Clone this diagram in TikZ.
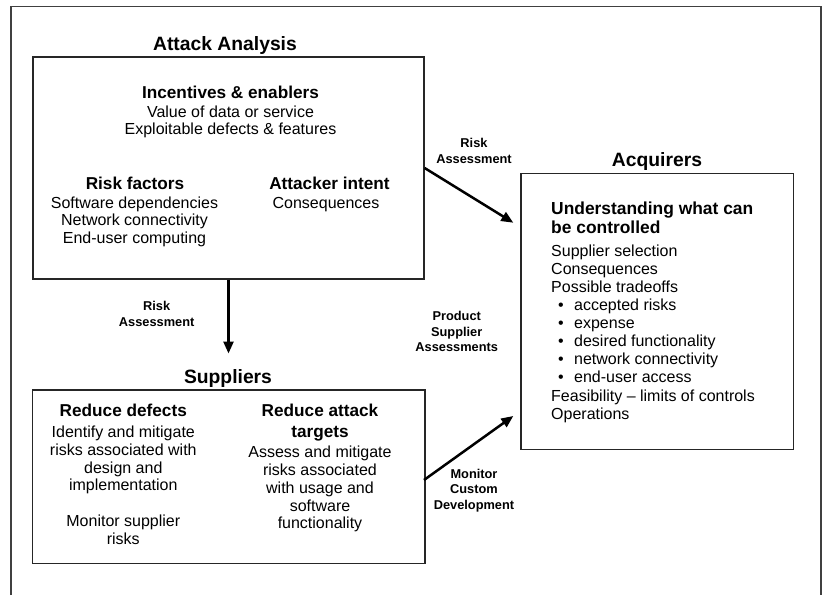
\documentclass[tikz,border=0pt]{standalone}
\usepackage{fontspec}
\setmainfont{Liberation Sans}
\usetikzlibrary{arrows.meta}
\begin{document}
\begin{tikzpicture}[x=1pt,y=-1pt,
  box/.style={draw=black!85,line width=1.3pt,inner sep=0pt},
  ttl/.style={anchor=base,inner sep=0pt,font=\fontsize{19.3}{22}\selectfont\bfseries},
  hd/.style={anchor=base,inner sep=0pt,font=\fontsize{17.2}{20}\selectfont\bfseries},
  bd/.style={anchor=base,inner sep=0pt,font=\fontsize{16}{18}\selectfont},
  bdl/.style={anchor=base west,inner sep=0pt,font=\fontsize{16}{18}\selectfont},
  hdl/.style={anchor=base west,inner sep=0pt,font=\fontsize{17.4}{20}\selectfont\bfseries},
  lbl/.style={anchor=base,inner sep=0pt,font=\fontsize{12.8}{15}\selectfont\bfseries},
  arr/.style={line width=2.5pt,-{Triangle[length=12pt,width=10pt]}}]
\useasboundingbox (0,0) rectangle (822,595);
% outer frame
\draw[line width=1.4pt,black!75] (11,595) -- (11,6.5) -- (821,6.5) -- (821,595);

% boxes
\node[box,minimum width=391pt,minimum height=222pt] (attack) at (228.5,168) {};
\node[box,minimum width=392.7pt,minimum height=173.3pt] (supp) at (228.7,476.7) {};
\node[box,minimum width=272.5pt,minimum height=276pt] (acq) at (657.25,311.3) {};

% Attack Analysis
\node[ttl] (t1) at (225,50) {Attack Analysis};
\node[hd] (ie) at (230.5,98) {Incentives \& enablers};
\node[bd] (ie1) at (230.5,117) {Value of data or service};
\node[bd] (ie2) at (230.5,134.5) {Exploitable defects \& features};
\node[hd] (rf) at (135,189) {Risk factors};
\node[bd] (rf1) at (134.5,208) {Software dependencies};
\node[bd] (rf2) at (134.5,225.5) {Network connectivity};
\node[bd] (rf3) at (134.5,243) {End-user computing};
\node[hd] (ai) at (329.5,189) {Attacker intent};
\node[bd] (ai1) at (326,208) {Consequences};

% Suppliers
\node[ttl] (t2) at (228,383.3) {Suppliers};
\node[hd] (rd) at (123.3,416.7) {Reduce defects};
\node[bd] (rd1) at (123.3,437.7) {Identify and mitigate};
\node[bd] (rd2) at (123.3,455.3) {risks associated with};
\node[bd] (rd3) at (123.3,473) {design and};
\node[bd] (rd4) at (123.3,490.7) {implementation};
\node[bd] (rd5) at (123.3,526.7) {Monitor supplier};
\node[bd] (rd6) at (123.3,544.3) {risks};
\node[hd] (ra) at (320,416.7) {Reduce attack};
\node[hd] (ra0) at (320,437.7) {targets};
\node[bd] (ra1) at (320,457.3) {Assess and mitigate};
\node[bd] (ra2) at (320,475.5) {risks associated};
\node[bd] (ra3) at (320,493.5) {with usage and};
\node[bd] (ra4) at (320,511) {software};
\node[bd] (ra5) at (320,528.5) {functionality};

% Acquirers
\node[ttl] (t3) at (657,166.7) {Acquirers};
\node[hdl] (u1) at (551,214) {Understanding what can};
\node[hdl] (u2) at (551,233) {be controlled};
\node[bdl] (a1) at (551,256.5) {Supplier selection};
\node[bdl] (a2) at (551,274.5) {Consequences};
\node[bdl] (a3) at (551,292.5) {Possible tradeoffs};
\foreach \t [count=\i] in {accepted risks,expense,desired functionality,network connectivity,end-user access}{
  \node[bd] (b\i) at (561,292.5+18*\i) {•};
  \node[bdl] (bt\i) at (574,292.5+18*\i) {\t};
}
\node[bdl] (a4) at (551,401) {Feasibility – limits of controls};
\node[bdl] (a5) at (551,419) {Operations};

% connector labels
\node[lbl] (l1a) at (474,147.7) {Risk};
\node[lbl] (l1b) at (474,163.3) {Assessment};
\node[lbl] (l2a) at (156.7,310) {Risk};
\node[lbl] (l2b) at (156.7,326) {Assessment};
\node[lbl] (l3a) at (456.7,320.7) {Product};
\node[lbl] (l3b) at (456.7,336.2) {Supplier};
\node[lbl] (l3c) at (456.7,351.7) {Assessments};
\node[lbl] (l4a) at (474,478) {Monitor};
\node[lbl] (l4b) at (474,493.7) {Custom};
\node[lbl] (l4c) at (474,509.3) {Development};

% connectors
\coordinate (tipA) at (513.3,222.7);
\coordinate (tipB) at (228.5,353.5);
\coordinate (tipC) at (513.3,416);
\coordinate (stC) at (424,480);
\draw[arr] (attack.east) -- (tipA);
\draw[arr] (attack.south) -- (tipB);
\draw[arr] (stC) -- (tipC);
\end{tikzpicture}
\end{document}
